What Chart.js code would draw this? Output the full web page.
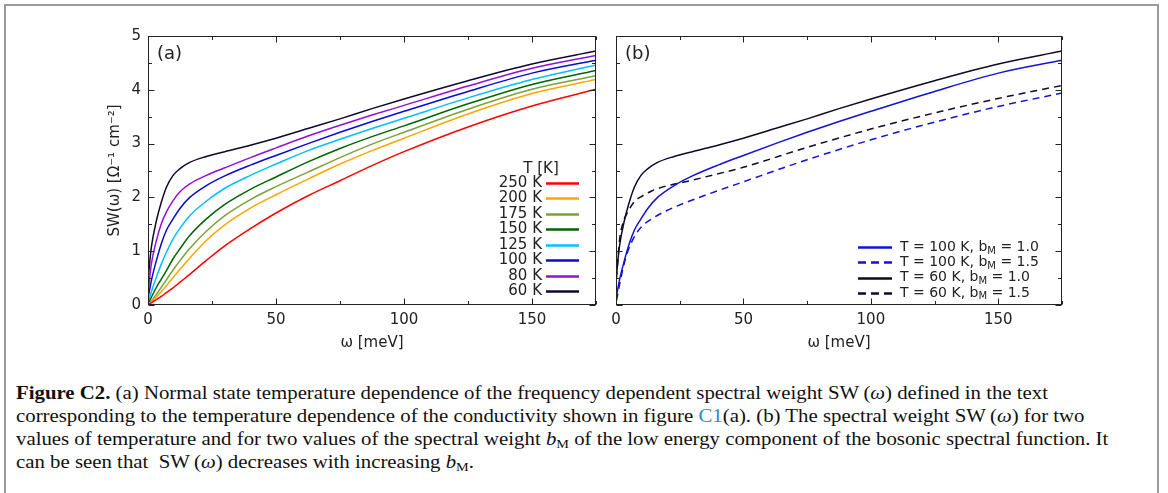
<!DOCTYPE html>
<html><head><meta charset="utf-8">
<script src="https://cdn.jsdelivr.net/npm/chart.js@4.4.1/dist/chart.umd.min.js"></script>
<style>
html,body{margin:0;padding:0;background:#fff;}
body{width:1168px;height:493px;position:relative;overflow:hidden;}
#frame{position:absolute;left:4px;top:4px;width:1155px;height:560px;border:2px solid #9a9a9a;box-sizing:border-box;}
#ca{position:absolute;left:0;top:0;}
#cb{position:absolute;left:600px;top:0;}
.cap{position:absolute;left:16px;white-space:nowrap;font-family:'Liberation Serif',serif;font-size:19px;line-height:23px;transform-origin:0 0;color:#111;}
.cap b{font-weight:bold;}
.cap .lnk{color:#2b8cc4;}
.cap sub{font-size:13px;vertical-align:-3px;line-height:0;font-style:normal;}
</style>
</head><body>
<div id="frame"></div>
<canvas id="ca" width="600" height="360"></canvas>
<canvas id="cb" width="568" height="360"></canvas>
<div class="cap" id="l1" style="top:381px"><b>Figure C2.</b> (a) Normal state temperature dependence of the frequency dependent spectral weight SW&#8201;(<i>ω</i>) defined in the text</div>
<div class="cap" id="l2" style="top:404px">corresponding to the temperature dependence of the conductivity shown in figure <span class="lnk">C1</span>(a). (b) The spectral weight SW&#8201;(<i>ω</i>) for two</div>
<div class="cap" id="l3" style="top:427px">values of temperature and for two values of the spectral weight <i>b</i><sub>M</sub> of the low energy component of the bosonic spectral function. It</div>
<div class="cap" id="l4" style="top:450px">can be seen that &nbsp;SW&#8201;(<i>ω</i>) decreases with increasing <i>b</i><sub>M</sub>.</div>
<script>
// ---------- data ----------
const xTicks = [0, 50, 100, 150];
const xMinorTicks = [25, 75, 125, 175];
const yTicks = [0, 1, 2, 3, 4, 5];
const yMinorTicks = [0.5, 1.5, 2.5, 3.5, 4.5];

// frequency grid (meV)
const omega = [0.2, 1.3, 3.3, 5.2, 7.2, 9.8, 12.4, 16.3, 22.8, 30, 40, 50, 62.5, 75, 87.5, 100, 125, 150, 175];
const tempLabels = ['250 K', '200 K', '175 K', '150 K', '125 K', '100 K', '80 K', '60 K'];
const tempColors = ['#ff0000', '#ffa500', '#7aa23a', '#006400', '#00bfff', '#0a0ad0', '#9410d6', '#0d0a2a'];
const sw250 = [0.01, 0.04, 0.10, 0.16, 0.23, 0.32, 0.42, 0.57, 0.83, 1.10, 1.42, 1.71, 2.03, 2.31, 2.59, 2.85, 3.31, 3.70, 4.01];
const sw200 = [0.01, 0.05, 0.15, 0.25, 0.36, 0.51, 0.66, 0.87, 1.20, 1.49, 1.80, 2.05, 2.34, 2.62, 2.87, 3.10, 3.55, 3.93, 4.19];
const sw175 = [0.02, 0.07, 0.20, 0.33, 0.47, 0.65, 0.82, 1.05, 1.37, 1.66, 1.96, 2.20, 2.47, 2.74, 2.99, 3.21, 3.64, 4.01, 4.26];
const sw150 = [0.03, 0.14, 0.33, 0.48, 0.64, 0.86, 1.04, 1.29, 1.60, 1.87, 2.15, 2.38, 2.66, 2.91, 3.13, 3.33, 3.74, 4.10, 4.36];
const sw125 = [0.06, 0.24, 0.52, 0.76, 0.98, 1.23, 1.42, 1.66, 1.93, 2.17, 2.41, 2.62, 2.87, 3.08, 3.28, 3.47, 3.85, 4.19, 4.46];
const sw100 = [0.17, 0.45, 0.83, 1.14, 1.39, 1.60, 1.79, 2.00, 2.22, 2.40, 2.60, 2.78, 3.00, 3.21, 3.41, 3.60, 3.97, 4.31, 4.55];
const sw80  = [0.30, 0.76, 1.20, 1.51, 1.73, 1.94, 2.10, 2.25, 2.41, 2.55, 2.74, 2.92, 3.14, 3.34, 3.53, 3.71, 4.07, 4.40, 4.64];
const sw60  = [0.56, 1.07, 1.57, 1.91, 2.19, 2.41, 2.53, 2.65, 2.76, 2.85, 2.97, 3.10, 3.28, 3.46, 3.65, 3.83, 4.17, 4.48, 4.72];

// panel (b): b_M = 1.5 curves on their own grid
const omegaB = [0.2, 1.4, 2.9, 4.3, 7.2, 10.1, 14, 18.8, 28.2, 35, 50, 75, 100, 125, 150, 175];
const sw100b15 = [0.08, 0.38, 0.71, 0.95, 1.27, 1.46, 1.60, 1.73, 1.92, 2.04, 2.29, 2.70, 3.07, 3.40, 3.69, 3.94];
const sw60b15  = [0.50, 1.21, 1.55, 1.70, 1.92, 2.02, 2.12, 2.20, 2.30, 2.38, 2.56, 2.93, 3.27, 3.57, 3.84, 4.08];
const bLabels = ['T = 100 K, b_M = 1.0', 'T = 100 K, b_M = 1.5', 'T = 60 K, b_M = 1.0', 'T = 60 K, b_M = 1.5'];

const FONT = 'DejaVu Sans';
const TXT = '#222';

function pts(xs, ys){ return xs.map((x,i)=>({x:x, y:ys[i]})); }

const frameTicks = {
  id:'frameTicks',
  afterDatasetsDraw(chart, args, o){
    const {ctx, chartArea:a, scales:{x, y}} = chart;
    ctx.save();
    ctx.strokeStyle = '#222'; ctx.lineWidth = 1; ctx.setLineDash([]);
    const L = a.left+0.5, R = a.right-0.5, T = a.top+0.5, B = a.bottom-0.5;
    ctx.strokeRect(L, T, R-L, B-T);
    ctx.beginPath();
    const xt = (vals, len)=>vals.forEach(v=>{ const p=Math.round(x.getPixelForValue(v))+0.5; ctx.moveTo(p,B); ctx.lineTo(p,B-len); ctx.moveTo(p,T); ctx.lineTo(p,T+len); });
    const yt = (vals, len)=>vals.forEach(v=>{ const p=Math.round(y.getPixelForValue(v))+0.5; ctx.moveTo(L,p); ctx.lineTo(L+len,p); ctx.moveTo(R,p); ctx.lineTo(R-len,p); });
    xt(xTicks, 6); xt(xMinorTicks, 3.5); yt(yTicks, 6); yt(yMinorTicks, 3.5);
    ctx.stroke();
    // panel label
    ctx.fillStyle = TXT; ctx.font = '18px "'+FONT+'"'; ctx.textBaseline='middle'; ctx.textAlign='left';
    ctx.fillText(o.panel, a.left+9, a.top+18);
    // legend
    const lg = o.legend;
    ctx.lineWidth = 2.5;
    if (lg.type==='a'){
      ctx.font = '15px "'+FONT+'"';
      ctx.textAlign='center'; ctx.fillText(lg.header, lg.headerX, lg.headerY);
      chart.data.datasets.forEach((d,i)=>{
        const yy = lg.y0 + i*lg.dy;
        ctx.textAlign='right'; ctx.fillStyle=TXT; ctx.fillText(d.label, lg.textRight, yy);
        ctx.strokeStyle=d.borderColor; ctx.setLineDash(d.borderDash||[]);
        ctx.beginPath(); ctx.moveTo(lg.lx0, Math.round(yy)+0.5); ctx.lineTo(lg.lx1, Math.round(yy)+0.5); ctx.stroke();
      });
    } else {
      chart.data.datasets.forEach((d,i)=>{
        const yy = lg.y0 + i*lg.dy;
        ctx.strokeStyle=d.borderColor; ctx.setLineDash(d.borderDash ? [8,5] : []);
        ctx.beginPath(); ctx.moveTo(lg.lx0, Math.round(yy)+0.5); ctx.lineTo(lg.lx1, Math.round(yy)+0.5); ctx.stroke();
        const parts = d.label.split('_M');
        ctx.textAlign='left'; ctx.fillStyle=TXT;
        let xx = lg.textX;
        ctx.font = '14px "'+FONT+'"';
        ctx.fillText(parts[0], xx, yy); xx += ctx.measureText(parts[0]).width;
        ctx.font = '10px "'+FONT+'"';
        ctx.fillText('M', xx, yy+4); xx += ctx.measureText('M').width;
        ctx.font = '14px "'+FONT+'"';
        ctx.fillText(parts[1], xx, yy);
      });
    }
    ctx.restore();
  }
};

function makeChart(id, datasets, cfg){
  return new Chart(document.getElementById(id), {
    type:'line',
    data:{datasets},
    options:{
      responsive:false, animation:false, devicePixelRatio:1,
      layout:{padding:cfg.padding},
      elements:{point:{radius:0}, line:{borderWidth:1.5, cubicInterpolationMode:'monotone', fill:false}},
      plugins:{legend:{display:false}, tooltip:{enabled:false}, frameTicks:cfg.frame},
      scales:{
        x:{type:'linear', min:0, max:175,
           afterBuildTicks:s=>{ s.ticks = xTicks.map(v=>({value:v})); },
           afterFit:s=>{ s.height = 50; },
           grid:{display:false, drawTicks:false}, border:{display:false},
           ticks:{autoSkip:false, maxRotation:0, padding:6, color:TXT, font:{family:FONT, size:15}},
           title:{display:true, text:'ω [meV]', color:TXT, font:{family:FONT, size:15}, padding:{top:0, bottom:3}}},
        y:{type:'linear', min:0, max:5,
           afterBuildTicks:s=>{ s.ticks = yTicks.map(v=>({value:v})); },
           afterFit:s=>{ s.width = cfg.yWidth; },
           grid:{display:false, drawTicks:false}, border:{display:false},
           ticks:{display:cfg.yLabels, autoSkip:false, padding:7, color:TXT, font:{family:FONT, size:15}},
           title:{display:cfg.yLabels, text:'SW(ω) [Ω⁻¹ cm⁻²]', color:TXT, font:{family:FONT, size:15}, padding:{top:6, bottom:0}}}
      }
    },
    plugins:[frameTicks]
  });
}

const seriesA = [sw250, sw200, sw175, sw150, sw125, sw100, sw80, sw60];
const dsA = seriesA.map((s,i)=>({label:tempLabels[i], data:pts(omega, s), borderColor:tempColors[i]}));

const dsB = [
  {label:bLabels[0], data:pts(omega, sw100), borderColor:'#1212d6'},
  {label:bLabels[1], data:pts(omegaB, sw100b15), borderColor:'#1212d6', borderDash:[7,5]},
  {label:bLabels[2], data:pts(omega, sw60), borderColor:'#0d0a2a'},
  {label:bLabels[3], data:pts(omegaB, sw60b15), borderColor:'#0d0a2a', borderDash:[7,5]}
];

function draw(){
  makeChart('ca', dsA, {padding:{left:100, right:4, top:36, bottom:5}, yWidth:48, yLabels:true,
    frame:{panel:'(a)', legend:{type:'a', header:'T [K]', headerX:541, headerY:169, textRight:542, lx0:546, lx1:579, y0:183, dy:15.45}}});
  makeChart('cb', dsB, {padding:{left:16, right:106, top:36, bottom:5}, yWidth:0, yLabels:false,
    frame:{panel:'(b)', legend:{type:'b', lx0:258, lx1:292, textX:300, y0:247, dy:15.3}}});
  const l1 = document.getElementById('l1');
  const w = l1.getBoundingClientRect().width;
  const s = 1032 / w;
  ['l1','l2','l3','l4'].forEach(id=>{ document.getElementById(id).style.transform = 'scaleX('+s+')'; });
}
if (document.fonts && document.fonts.ready) { document.fonts.ready.then(draw); } else { draw(); }
</script>
</body></html>
